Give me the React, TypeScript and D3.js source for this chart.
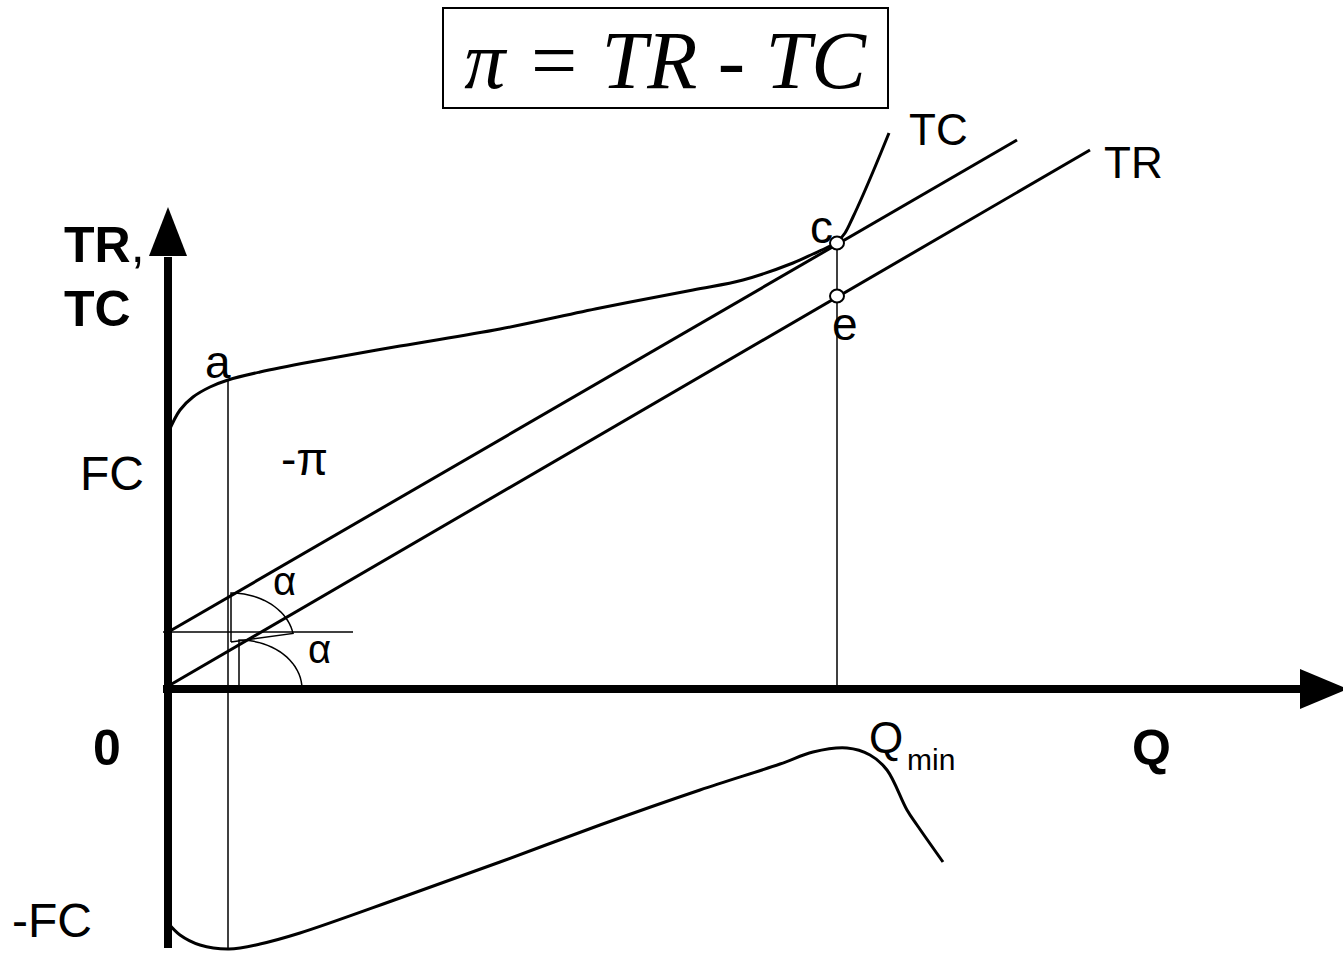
import React, { useEffect, useRef } from 'react';
import * as d3 from 'd3';

// all values in chart units: Q along x, money (TR, TC, profit) along y
const tcCurve: [number, number][] = [
  [0, 2.56], [0.12, 2.79], [0.25, 2.92], [0.42, 3.02], [0.6, 3.09], [0.92, 3.17],
  [1.42, 3.27], [2.32, 3.43], [3.32, 3.6], [4.32, 3.81], [5.25, 3.99], [5.75, 4.09],
  [6.25, 4.26], [6.45, 4.35], [6.6, 4.42], [6.69, 4.47], [6.77, 4.56], [6.85, 4.72],
  [6.95, 4.94], [7.07, 5.22], [7.21, 5.56],
];
const trLine: [number, number][] = [[0.02, 0.04], [9.22, 5.39]];
const tcTangent: [number, number][] = [[0.02, 0.58], [8.49, 5.49]];
const profitCurve: [number, number][] = [
  [0, -2.34], [0.12, -2.46], [0.32, -2.56], [0.61, -2.6], [0.92, -2.55], [1.32, -2.44],
  [2.32, -2.09], [3.32, -1.73], [4.32, -1.36], [5.32, -1.01], [6.12, -0.75], [6.45, -0.63],
  [6.79, -0.59], [7.02, -0.66], [7.19, -0.81], [7.39, -1.21], [7.49, -1.36], [7.75, -1.73],
];
const qA = 0.6;
const aTop = 3.09;
const qMin = 6.69;
const cValue = 4.46;
const eValue = 3.93;
const horizLevel = 0.57;

const App = () => {
  const ref = useRef<SVGSVGElement>(null);

  useEffect(() => {
    document.body.style.margin = '0';
    const svg = d3.select(ref.current);
    svg.selectAll('*').remove();

    const width = 1343;
    const height = 953;
    svg.attr('width', width).attr('height', height);

    const x = d3.scaleLinear().domain([0, 10]).range([168, 1168]);
    const y = d3.scaleLinear().domain([0, 5]).range([689, 189]);

    const line = d3.line<[number, number]>().x(d => x(d[0])).y(d => y(d[1]));
    const smooth = d3.line<[number, number]>().x(d => x(d[0])).y(d => y(d[1]))
      .curve(d3.curveCatmullRom.alpha(0.5));

    const sans = 'Liberation Sans, Arial, sans-serif';

    // title box
    svg.append('rect').attr('x', 443).attr('y', 8).attr('width', 445).attr('height', 100)
      .attr('fill', 'none').attr('stroke', '#000').attr('stroke-width', 2);
    svg.append('text').attr('x', 665).attr('y', 88).attr('text-anchor', 'middle')
      .style('font-family', 'Liberation Serif, Times New Roman, serif')
      .style('font-style', 'italic').style('font-size', '82px')
      .text('π = TR - TC');

    // thin guide lines
    const thin = (pts: [number, number][]) => svg.append('path').attr('d', line(pts))
      .attr('fill', 'none').attr('stroke', '#000').attr('stroke-width', 1.5);
    thin([[qA, aTop], [qA, -2.6]]);
    thin([[qMin, cValue], [qMin, 0]]);
    thin([[-0.05, horizLevel], [1.85, horizLevel]]);

    // angle markers
    const arcPts = (cx: number, cy: number, rx: number, ry: number, a0: number, a1: number) =>
      d3.range(0, 21).map(i => {
        const t = (a0 + (a1 - a0) * i / 20) * Math.PI / 180;
        return [cx + rx * Math.cos(t), cy + ry * Math.sin(t)] as [number, number];
      });
    const s1 = arcPts(0.63, 0.47, 0.63, 0.49, 90, 10);
    thin([[0.63, 0.47], ...s1, [0.63, 0.47]]);
    const s2 = arcPts(0.71, 0, 0.63, 0.49, 90, 0);
    thin([[0.71, 0], ...s2]);

    // axes
    svg.append('line').attr('x1', x(0)).attr('x2', x(0)).attr('y1', y(-2.59)).attr('y2', y(4.32))
      .attr('stroke', '#000').attr('stroke-width', 8);
    svg.append('path')
      .attr('d', `M${x(0)},${y(4.82)} L${x(0) - 19},${y(4.33)} L${x(0) + 19},${y(4.33)} Z`)
      .attr('fill', '#000');
    svg.append('line').attr('x1', x(-0.05)).attr('x2', x(11.4)).attr('y1', y(0)).attr('y2', y(0))
      .attr('stroke', '#000').attr('stroke-width', 8);
    svg.append('path')
      .attr('d', `M${x(11.8)},${y(0)} L${x(11.32)},${y(0) - 20} L${x(11.32)},${y(0) + 20} Z`)
      .attr('fill', '#000');

    // curves
    const thick = (d: string | null) => svg.append('path').attr('d', d)
      .attr('fill', 'none').attr('stroke', '#000').attr('stroke-width', 3);
    thick(line(trLine));
    thick(line(tcTangent));
    thick(smooth(tcCurve));
    thick(smooth(profitCurve));

    // points c and e
    [cValue, eValue].forEach(v => {
      svg.append('ellipse').attr('cx', x(qMin)).attr('cy', y(v)).attr('rx', 7).attr('ry', 6.5)
        .attr('fill', '#fff').attr('stroke', '#000').attr('stroke-width', 2);
    });

    // labels
    const label = (t: string, px: number, py: number, size: number, bold = false) =>
      svg.append('text').attr('x', px).attr('y', py)
        .style('font-family', sans).style('font-size', `${size}px`)
        .style('font-weight', bold ? 'bold' : 'normal').text(t);
    const tr = label('', 64, 262, 50, true);
    tr.append('tspan').text('TR');
    tr.append('tspan').style('font-weight', 'normal').text(',');
    label('TC', 64, 326, 50, true);
    label('FC', 80, 490, 48);
    label('-FC', 12, 937, 48);
    label('0', 93, 765, 50, true);
    label('Q', 1132, 765, 50, true);
    label('Q', 869, 753, 44);
    label('min', 907, 770, 30);
    label('a', 205, 378, 46);
    label('-π', 281, 475, 46);
    label('α', 273, 595, 40);
    label('α', 308, 663, 40);
    label('c', 810, 243, 46);
    label('e', 832, 340, 46);
    label('TC', 909, 145, 44);
    label('TR', 1104, 178, 44);
  }, []);

  return <svg ref={ref} style={{ display: 'block' }}></svg>;
};

export default App;
